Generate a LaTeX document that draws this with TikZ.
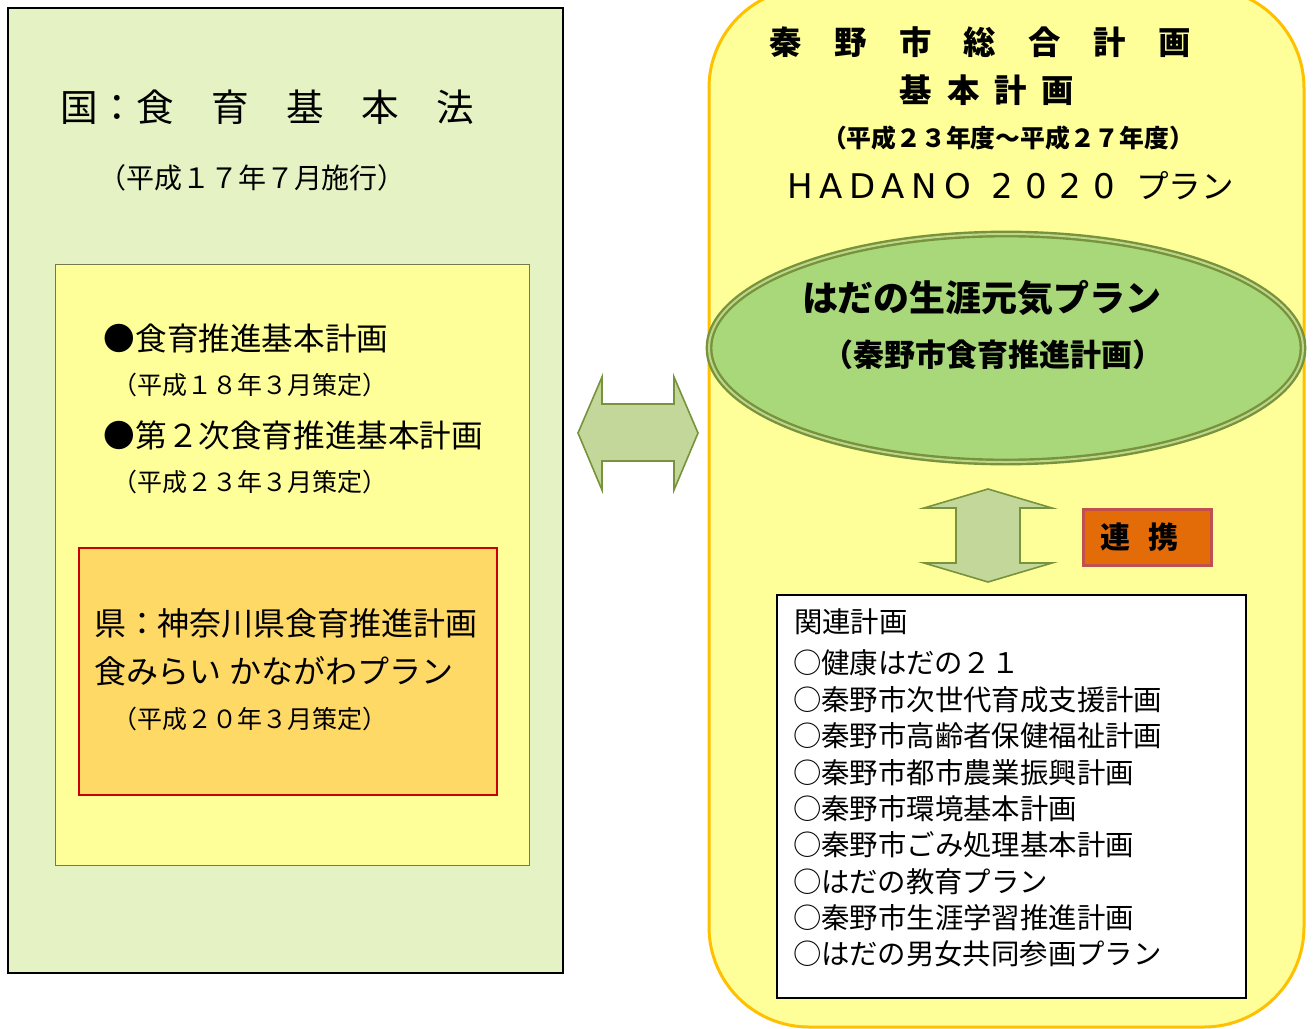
\documentclass[tikz,border=0pt]{standalone}
\usepackage{fontspec}
\setmainfont{Noto Sans CJK JP}
\newfontfamily\latinA[LetterSpace=20]{DejaVu Sans}
\newfontfamily\latinB[LetterSpace=37]{DejaVu Sans}
\usetikzlibrary{shapes.geometric}
\definecolor{lgreen}{RGB}{229,243,196}
\definecolor{lyellow}{RGB}{255,255,153}
\definecolor{olivegray}{RGB}{120,120,80}
\definecolor{orfill}{RGB}{255,217,102}
\definecolor{redb}{RGB}{200,0,0}
\definecolor{goldb}{RGB}{255,192,0}
\definecolor{ellfill}{RGB}{169,216,122}
\definecolor{ellb}{RGB}{119,147,60}
\definecolor{ellin}{RGB}{190,214,140}
\definecolor{arrfill}{RGB}{196,215,155}
\definecolor{renfill}{RGB}{227,108,9}
\definecolor{renb}{RGB}{192,80,77}
\begin{document}
\begin{tikzpicture}[x=0.5pt,y=-0.5pt,
  txt/.style={inner sep=0pt,outer sep=0pt},
  blockarrow/.style={fill=arrfill,draw=ellb,line width=0.8pt,line join=miter}]
\fill[white] (0,0) rectangle (1314,1029);
\useasboundingbox (0,0) rectangle (1314,1029);
% left side
\draw[fill=lgreen,line width=0.8pt] (8,8) rectangle (563,973);
\draw[fill=lyellow,draw=olivegray,line width=0.5pt] (55,264) rectangle (529,865);
\draw[fill=orfill,draw=redb,line width=0.8pt] (79,548) rectangle (497,795);
\node[txt,anchor=west,font=\fontsize{18.8pt}{20pt}\selectfont] (kuni) at (61,107) {国：食　育　基　本　法};
\node[txt,font=\fontsize{14pt}{16pt}\selectfont] (kunid) at (252,178) {（平成１７年７月施行）};
\node[txt,anchor=west,font=\fontsize{15.8pt}{18pt}\selectfont] (p1) at (104,338) {●食育推進基本計画};
\node[txt,font=\fontsize{12.5pt}{15pt}\selectfont] (p1d) at (250,385) {（平成１８年３月策定）};
\node[txt,anchor=west,font=\fontsize{15.8pt}{18pt}\selectfont] (p2) at (104,435) {●第２次食育推進基本計画};
\node[txt,font=\fontsize{12.5pt}{15pt}\selectfont] (p2d) at (250,482) {（平成２３年３月策定）};
\node[txt,anchor=west,font=\fontsize{16pt}{18pt}\selectfont] (ken1) at (94,623) {県：神奈川県食育推進計画};
\node[txt,anchor=west,font=\fontsize{16pt}{18pt}\selectfont] (ken2) at (94,671) {食みらい かながわプラン};
\node[txt,font=\fontsize{12.5pt}{15pt}\selectfont] (kend) at (250,719) {（平成２０年３月策定）};
% left-right arrow
\draw[blockarrow] (578,433) -- (602,377) -- (602,404) -- (674,404) -- (674,377) -- (698,433)
  -- (674,490) -- (674,461) -- (602,461) -- (602,490) -- cycle;
% right side
\draw[fill=lyellow,draw=goldb,line width=1.5pt,rounded corners=50pt] (709,-12) rectangle (1304,1027);
\node[txt,font=\bfseries\fontsize{16.2pt}{18pt}\selectfont] (t1) at (980,42) {秦　野　市　総　合　計　画};
\node[txt,font=\bfseries\fontsize{16.2pt}{18pt}\selectfont] (t2) at (987,90) {基\hspace{7.5pt}本\hspace{7.5pt}計\hspace{7.5pt}画};
\node[txt,font=\bfseries\fontsize{12.4pt}{14pt}\selectfont] (t3) at (1008,138) {（平成２３年度～平成２７年度）};
\node[txt,anchor=base west,font=\latinA\fontsize{17pt}{19pt}\selectfont] (t4a) at (787,198) {HADANO};
\node[txt,anchor=base west,font=\latinB\fontsize{17pt}{19pt}\selectfont] (t4b) at (991,198) {2020};
\node[txt,anchor=west,font=\fontsize{16.3pt}{18pt}\selectfont] (t4c) at (1136,186) {プラン};
\node[ellipse,draw=ellb,double=ellin,double distance=1pt,line width=1.2pt,fill=ellfill,
  minimum width=297pt,minimum height=114pt,inner sep=0pt] (ell) at (1006,348) {};
\node[txt,font=\bfseries\fontsize{18pt}{20pt}\selectfont] (e1) at (982,298) {はだの生涯元気プラン};
\node[txt,font=\bfseries\fontsize{15.5pt}{17pt}\selectfont] (e2) at (993,355) {（秦野市食育推進計画）};
% up-down arrow
\draw[blockarrow] (988,489) -- (1052,508) -- (1020,508) -- (1020,563) -- (1052,563) -- (988,582)
  -- (924,563) -- (956,563) -- (956,508) -- (924,508) -- cycle;
\node[fill=renfill,draw=renb,line width=1.5pt,minimum width=64pt,minimum height=28pt,inner sep=0pt] (ren) at (1147,537.5) {};
\node[txt,font=\bfseries\fontsize{15pt}{17pt}\selectfont] (rent) at (1139,537) {連\hspace{9pt}携};
% related plans
\node[draw,fill=white,line width=0.8pt,minimum width=234.5pt,minimum height=201.5pt,inner sep=0pt] (rel) at (1011.5,796.5) {};
\node[txt,anchor=west,font=\fontsize{14.2pt}{16pt}\selectfont] (relh) at (794,622) {関連計画};
\foreach \t [count=\i from 0] in {○健康はだの２１,○秦野市次世代育成支援計画,○秦野市高齢者保健福祉計画,
  ○秦野市都市農業振興計画,○秦野市環境基本計画,○秦野市ごみ処理基本計画,○はだの教育プラン,
  ○秦野市生涯学習推進計画,○はだの男女共同参画プラン}
  \node[txt,anchor=west,font=\fontsize{14.2pt}{16pt}\selectfont] (rel\i) at (793,663+36.4*\i) {\t};
\end{tikzpicture}
\end{document}
